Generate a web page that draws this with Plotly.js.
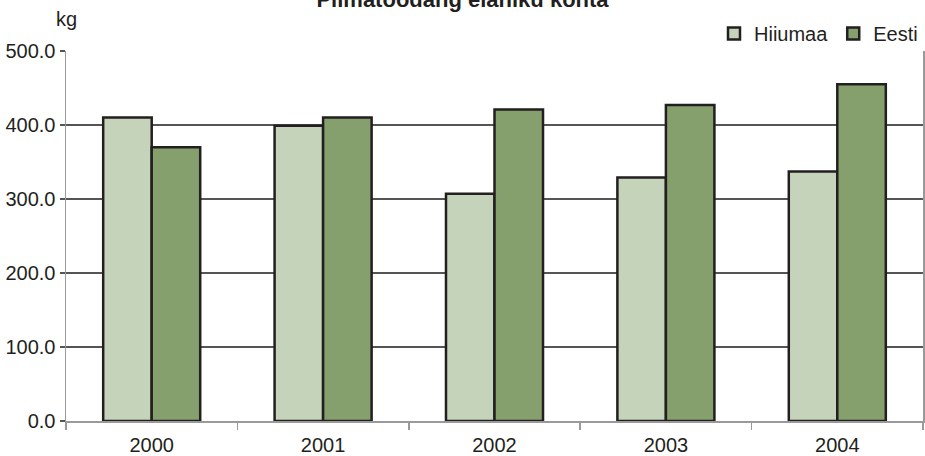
<!DOCTYPE html>
<html>
<head>
<meta charset="utf-8">
<script src="https://cdn.plot.ly/plotly-3.0.1.min.js"></script>
<style>html,body{margin:0;padding:0;background:#fff;}#chart{width:925px;height:456px;}</style>
</head>
<body>
<div id="chart"></div>
<script>
const years = ['2000', '2001', '2002', '2003', '2004'];
const hiiumaa = [410, 399, 307, 329, 337];
const eesti = [370, 410, 421, 427, 455];
const yTicks = [0, 100, 200, 300, 400, 500];
const yTickLabels = ['0.0', '100.0', '200.0', '300.0', '400.0', '500.0'];

const font = 'Liberation Sans, Arial, sans-serif';
const outline = {color: '#231f20', width: 2.5};

const data = [
  {type: 'bar', name: 'Hiiumaa', x: years, y: hiiumaa,
   marker: {color: '#c6d3bb', line: outline}},
  {type: 'bar', name: 'Eesti', x: years, y: eesti,
   marker: {color: '#85a06d', line: outline}}
];

const layout = {
  width: 925, height: 456,
  margin: {l: 66, r: 2, t: 51, b: 35, autoexpand: false},
  paper_bgcolor: '#fff', plot_bgcolor: '#fff',
  font: {family: font, size: 20, color: '#231f20'},
  title: {text: '<b>Piimatoodang elaniku kohta</b>', font: {family: font, size: 22, color: '#231f20'},
          x: 0.5, xref: 'container', xanchor: 'center', y: 0.985, yref: 'container', yanchor: 'bottom'},
  barmode: 'group', bargap: 0.434, bargroupgap: 0,
  showlegend: true,
  legend: {orientation: 'h', x: 1.0, xanchor: 'right', y: 1.047, yanchor: 'middle',
           font: {family: font, size: 20}, bgcolor: 'rgba(0,0,0,0)', traceorder: 'normal'},
  xaxis: {type: 'category', showline: true, linecolor: '#9a9a9a', linewidth: 2,
          ticks: 'outside', tickson: 'boundaries', ticklen: 7, tickcolor: '#9a9a9a', tickwidth: 1.5,
          ticklabelstandoff: 5,
          showgrid: false, zeroline: false, tickfont: {size: 20}},
  yaxis: {range: [0, 500], tickvals: yTicks, ticktext: yTickLabels,
          showline: true, linecolor: '#9a9a9a', linewidth: 1.5, mirror: true,
          ticks: 'outside', ticklen: 5, tickcolor: '#555', tickwidth: 1.5,
          showgrid: true, gridcolor: '#555', gridwidth: 1.2, zeroline: false,
          tickfont: {size: 20}},
  annotations: [
    {text: 'kg', xref: 'paper', yref: 'paper', x: 0, y: (421 - 19) / 370, xanchor: 'center', yanchor: 'middle',
     showarrow: false, font: {family: font, size: 20}}
  ]
};

Plotly.newPlot('chart', data, layout, {displayModeBar: false, staticPlot: true});
</script>
</body>
</html>
